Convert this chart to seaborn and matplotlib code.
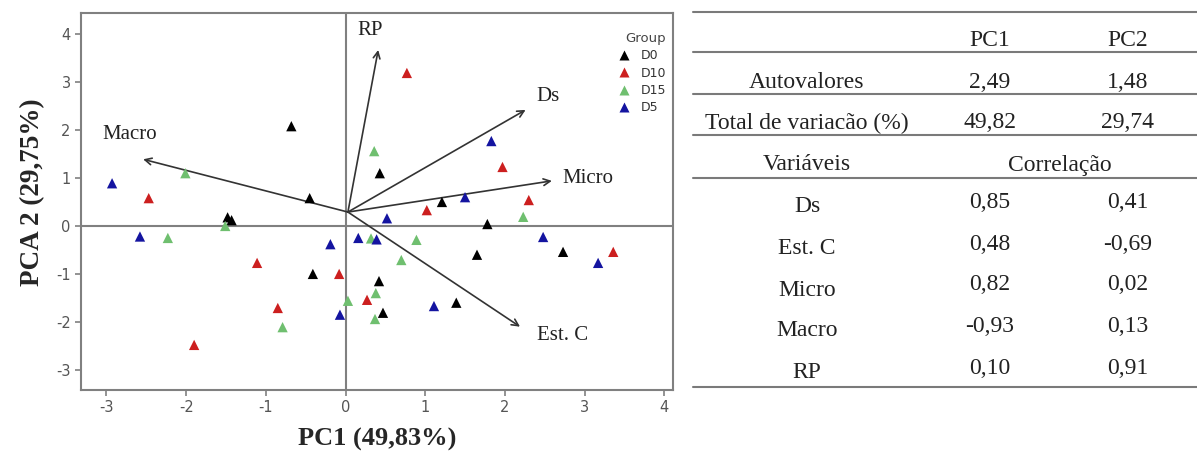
import seaborn as sns
import matplotlib.pyplot as plt
import pandas as pd

# PCA scores per group
d0_pc1 = [-0.68, -0.45, -1.48, -1.43, 0.43, 1.21, 1.78, 1.65, 2.73, -0.41, 0.42, 0.47, 1.39]
d0_pc2 = [2.08, 0.58, 0.18, 0.12, 1.10, 0.50, 0.04, -0.60, -0.54, -1.00, -1.15, -1.81, -1.60]
d10_pc1 = [0.77, 1.97, 2.30, 1.02, -2.47, -1.11, -0.85, -1.90, -0.08, 0.27, 3.36]
d10_pc2 = [3.19, 1.23, 0.54, 0.33, 0.58, -0.77, -1.71, -2.48, -1.00, -1.54, -0.54]
d15_pc1 = [0.36, -2.01, 2.23, -2.23, -1.51, 0.32, 0.89, 0.70, 0.38, 0.03, 0.37, -0.79]
d15_pc2 = [1.56, 1.10, 0.19, -0.25, 0.00, -0.26, -0.29, -0.71, -1.40, -1.56, -1.94, -2.11]
d5_pc1 = [-2.93, -2.58, 1.83, 1.50, 0.52, -0.19, 0.16, 0.39, 2.48, 3.17, -0.07, 1.11]
d5_pc2 = [0.89, -0.22, 1.77, 0.60, 0.16, -0.38, -0.25, -0.28, -0.23, -0.77, -1.85, -1.67]

groups = ["D0", "D10", "D15", "D5"]
colors = ["#000000", "#cc1f1f", "#6fbf6f", "#1414a0"]

# loading arrows (origin and tips in score units)
arrow_origin = (0.03, 0.29)
arrow_names = ["RP", "Ds", "Micro", "Macro", "Est. C"]
arrow_x = [0.41, 2.26, 2.59, -2.54, 2.19]
arrow_y = [3.67, 2.42, 0.94, 1.39, -2.10]
label_x = [0.31, 2.54, 2.72, -2.71, 2.73]
label_y = [4.08, 2.69, 0.98, 1.90, -2.29]

# table contents
tbl_header = ["", "PC1", "PC2"]
tbl_top = [["Autovalores", "2,49", "1,48"],
           ["Total de variacão (%)", "49,82", "29,74"]]
tbl_vars = ["Ds", "Est. C", "Micro", "Macro", "RP"]
tbl_pc1 = ["0,85", "0,48", "0,82", "-0,93", "0,10"]
tbl_pc2 = ["0,41", "-0,69", "0,02", "0,13", "0,91"]

df = pd.concat([
    pd.DataFrame({"pc1": d0_pc1, "pc2": d0_pc2, "Group": "D0"}),
    pd.DataFrame({"pc1": d10_pc1, "pc2": d10_pc2, "Group": "D10"}),
    pd.DataFrame({"pc1": d15_pc1, "pc2": d15_pc2, "Group": "D15"}),
    pd.DataFrame({"pc1": d5_pc1, "pc2": d5_pc2, "Group": "D5"}),
])

sns.set_style("white")
plt.rcParams["font.family"] = ["DejaVu Sans"]
plt.rcParams["axes.unicode_minus"] = False

fig = plt.figure(figsize=(11.97, 4.62), dpi=100)
ax = fig.add_axes([81 / 1197, 1 - 390 / 462, (673 - 81) / 1197, (390 - 13) / 462])

ax.axhline(0, color="#808080", lw=1.5, zorder=1)
ax.axvline(0, color="#808080", lw=1.5, zorder=1)

sns.scatterplot(data=df, x="pc1", y="pc2", hue="Group", hue_order=groups,
                palette=colors, marker="^", s=55, edgecolor="none", ax=ax, zorder=3)

for name, x, y, lx, ly in zip(arrow_names, arrow_x, arrow_y, label_x, label_y):
    ax.annotate("", xy=(x, y), xytext=arrow_origin,
                arrowprops=dict(arrowstyle="->", color="#333333", lw=1.2,
                                shrinkA=0, shrinkB=0, mutation_scale=12), zorder=2)
    ha = "left" if name == "Micro" else "center"
    ax.text(lx, ly, name, ha=ha, va="center", fontsize=15,
            family="Liberation Serif", color="#222222")

ax.set_xlim(-3.32, 4.11)
ax.set_ylim(-3.42, 4.44)
ax.set_xticks(range(-3, 5))
ax.set_yticks(range(-3, 5))
ax.tick_params(direction="out", length=4, width=1.2, color="#808080",
               labelcolor="#555555", labelsize=10.5, bottom=True, left=True)
for sp in ax.spines.values():
    sp.set_color("#808080")
    sp.set_linewidth(1.5)

ax.set_xlabel("PC1 (49,83%)", family="Liberation Serif", fontsize=19,
              fontweight="bold")
ax.set_ylabel("PCA 2 (29,75%)", family="Liberation Serif", fontsize=19.5,
              fontweight="bold")
ax.xaxis.set_label_coords(0.5, -0.10)
ax.yaxis.set_label_coords(-0.06, 0.525)

leg = ax.legend(title="Group", loc="upper right", bbox_to_anchor=(0.997, 0.963),
                borderaxespad=0, frameon=False, fontsize=9, title_fontsize=9.5,
                handletextpad=0.3, labelspacing=0.35, markerscale=0.9)
leg._legend_box.align = "right"
leg.get_title().set_color("#444444")
for t in leg.get_texts():
    t.set_color("#333333")

# table on the right
tx = fig.add_axes([0, 0, 1, 1], zorder=-1)
tx.set_xlim(0, 1197)
tx.set_ylim(462, 0)
tx.axis("off")

line_y = [12, 52, 94, 135, 178, 387]
for yy in line_y:
    tx.plot([693, 1197], [yy, yy], color="#7a7a7a", lw=1.5)

col_x = [807, 990, 1128]
tfont = dict(family="Liberation Serif", fontsize=17, color="#222222",
             ha="center", va="center")
for cx, txt in zip(col_x, tbl_header):
    tx.text(cx, 40, txt, **tfont)
for row, ry in zip(tbl_top, [82, 123]):
    for cx, txt in zip(col_x, row):
        tx.text(cx, ry, txt, **tfont)
tx.text(col_x[0], 165, "Variáveis", **tfont)
tx.text(1060, 165, "Correlação", **tfont)
row_y = [204, 246, 287, 328, 370]
for name, v1, v2, ry in zip(tbl_vars, tbl_pc1, tbl_pc2, row_y):
    tx.text(col_x[0], ry + 3, name, **tfont)
    tx.text(col_x[1], ry - 2, v1, **tfont)
    tx.text(col_x[2], ry - 2, v2, **tfont)

fig.savefig("out.png", dpi=100)
